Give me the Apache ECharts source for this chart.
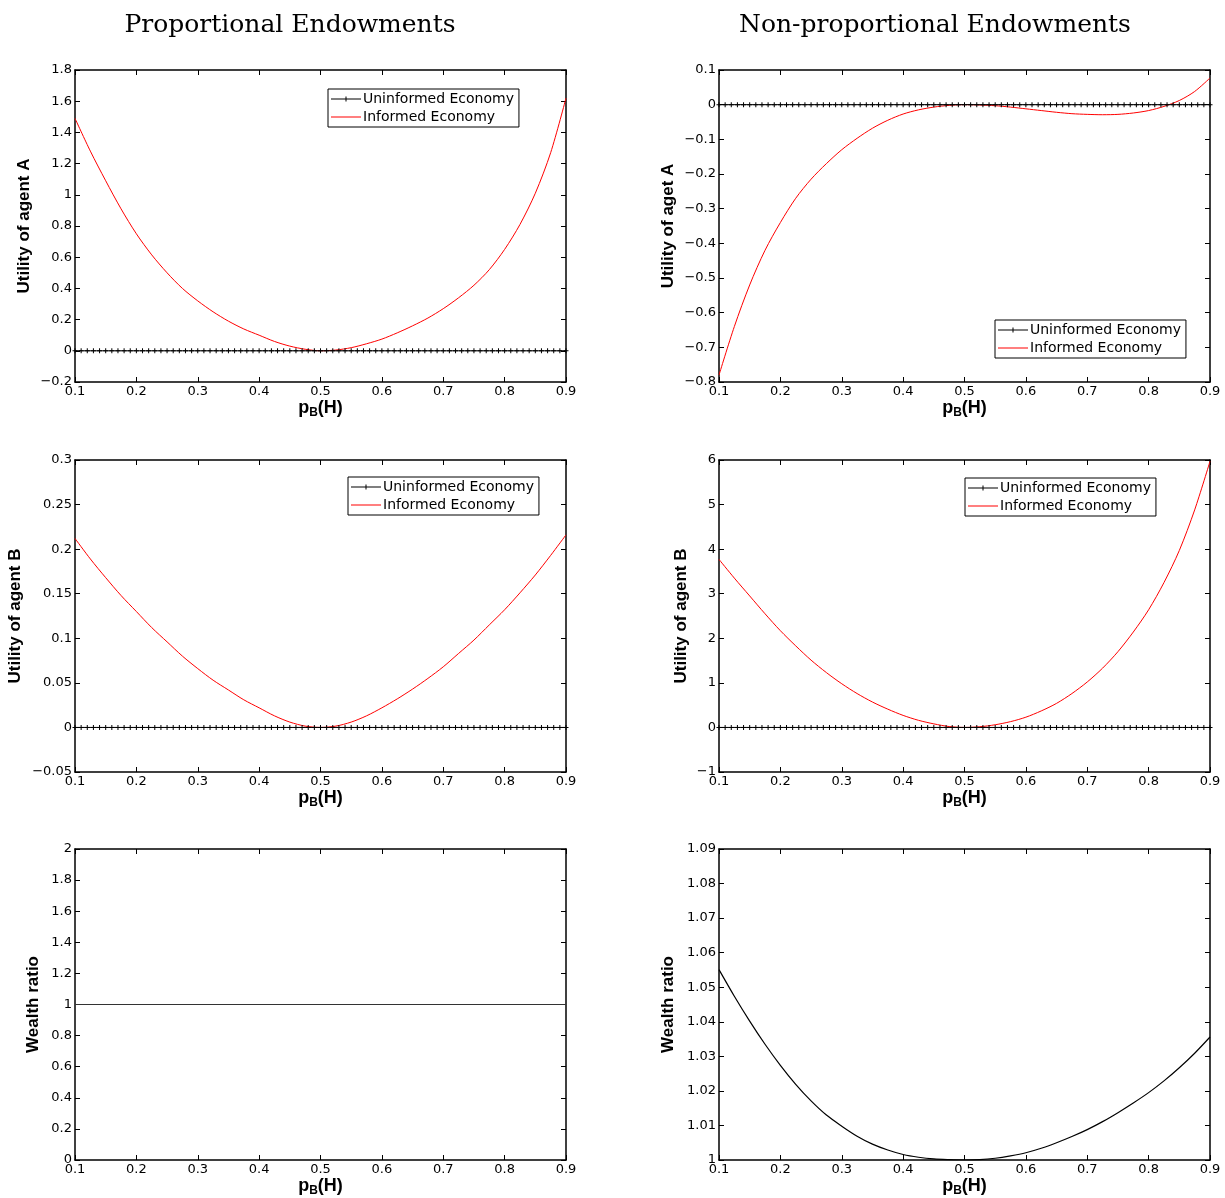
<!DOCTYPE html>
<html>
<head>
<meta charset="utf-8">
<script src="https://cdn.jsdelivr.net/npm/echarts@6/dist/echarts.min.js"></script>
<style>
  html, body { margin: 0; padding: 0; background: #fff; }
  #chart { width: 1225px; height: 1198px; }
</style>
</head>
<body>
<div id="chart"></div>
<script>
// x values of the read curves
const pCurve = [
  0.100, 0.125, 0.150, 0.175, 0.200, 0.225, 0.250, 0.275, 0.300, 0.325, 0.350,
  0.375, 0.400, 0.425, 0.450, 0.475, 0.500, 0.525, 0.550, 0.575, 0.600, 0.625,
  0.650, 0.675, 0.700, 0.725, 0.750, 0.775, 0.800, 0.825, 0.850, 0.875, 0.900
];

// fine grid where the uninformed "+" markers sit
const pFine = [
  0.10, 0.11, 0.12, 0.13, 0.14, 0.15, 0.16, 0.17, 0.18, 0.19,
  0.20, 0.21, 0.22, 0.23, 0.24, 0.25, 0.26, 0.27, 0.28, 0.29,
  0.30, 0.31, 0.32, 0.33, 0.34, 0.35, 0.36, 0.37, 0.38, 0.39,
  0.40, 0.41, 0.42, 0.43, 0.44, 0.45, 0.46, 0.47, 0.48, 0.49,
  0.50, 0.51, 0.52, 0.53, 0.54, 0.55, 0.56, 0.57, 0.58, 0.59,
  0.60, 0.61, 0.62, 0.63, 0.64, 0.65, 0.66, 0.67, 0.68, 0.69,
  0.70, 0.71, 0.72, 0.73, 0.74, 0.75, 0.76, 0.77, 0.78, 0.79,
  0.80, 0.81, 0.82, 0.83, 0.84, 0.85, 0.86, 0.87, 0.88, 0.89,
  0.90
];
const uninformedUtil = [
  0, 0, 0, 0, 0, 0, 0, 0, 0, 0,
  0, 0, 0, 0, 0, 0, 0, 0, 0, 0,
  0, 0, 0, 0, 0, 0, 0, 0, 0, 0,
  0, 0, 0, 0, 0, 0, 0, 0, 0, 0,
  0, 0, 0, 0, 0, 0, 0, 0, 0, 0,
  0, 0, 0, 0, 0, 0, 0, 0, 0, 0,
  0, 0, 0, 0, 0, 0, 0, 0, 0, 0,
  0, 0, 0, 0, 0, 0, 0, 0, 0, 0,
  0
];

// informed economy curves
const utilAProp = [
  1.49, 1.28, 1.09, 0.91, 0.75, 0.615, 0.50, 0.40, 0.32, 0.25, 0.19,
  0.14, 0.10, 0.06, 0.03, 0.01, 0.00, 0.005, 0.02, 0.045, 0.075, 0.115,
  0.16, 0.21, 0.27, 0.34, 0.42, 0.52, 0.65, 0.81, 1.01, 1.27, 1.62
];
const utilANonProp = [
  -0.78, -0.64, -0.52, -0.42, -0.34, -0.27, -0.215, -0.17, -0.13, -0.097, -0.068,
  -0.045, -0.027, -0.015, -0.007, -0.002, 0.0, -0.001, -0.003, -0.007, -0.012, -0.017,
  -0.022, -0.026, -0.028, -0.029, -0.028, -0.024, -0.017, -0.005, 0.012, 0.038, 0.077
];
const utilBProp = [
  0.212, 0.189, 0.168, 0.148, 0.130, 0.112, 0.096, 0.080, 0.066, 0.053, 0.042,
  0.031, 0.022, 0.013, 0.006, 0.0015, 0.0, 0.0015, 0.006, 0.013, 0.022, 0.032,
  0.043, 0.055, 0.068, 0.083, 0.098, 0.115, 0.132, 0.151, 0.171, 0.193, 0.216
];
const utilBNonProp = [
  3.77, 3.35, 2.95, 2.55, 2.17, 1.83, 1.51, 1.23, 0.98, 0.76, 0.57,
  0.41, 0.27, 0.16, 0.08, 0.02, 0.0, 0.015, 0.06, 0.13, 0.23, 0.37,
  0.54, 0.76, 1.02, 1.33, 1.70, 2.14, 2.64, 3.25, 3.97, 4.88, 5.97
];
const wealthProp = [
  1, 1, 1, 1, 1, 1, 1, 1, 1, 1, 1,
  1, 1, 1, 1, 1, 1, 1, 1, 1, 1, 1,
  1, 1, 1, 1, 1, 1, 1, 1, 1, 1, 1
];
const wealthNonProp = [
  1.0551, 1.0474, 1.0402, 1.0335, 1.0274, 1.0219, 1.0171, 1.0130, 1.0098, 1.0069, 1.0046,
  1.0029, 1.0016, 1.0008, 1.0003, 1.0001, 1.0000, 1.0001, 1.0005, 1.0012, 1.0021, 1.0034,
  1.0050, 1.0068, 1.0088, 1.0111, 1.0137, 1.0165, 1.0195, 1.0229, 1.0267, 1.0309, 1.0356
];

const titles = ['Proportional Endowments', 'Non-proportional Endowments'];
const legendNames = ['Uninformed Economy', 'Informed Economy'];

const SANS = '"DejaVu Sans", sans-serif';
const NAME_FONT = '"Liberation Sans", Arial, sans-serif';
const plusSymbol = 'path://M0,4H10V6H0Z M4,0H6V10H4Z';

const pairs = (xs, ys) => xs.map((x, i) => [x, ys[i]]);
const fmt = v => String(parseFloat(v.toFixed(3))).replace('-', '\u2212');

// panel layout
const panels = [
  { left: 75,  top: 70,  yMin: -0.2,  yMax: 1.8,  yInt: 0.2,  yName: 'Utility of agent A', gap: 42 },
  { left: 719, top: 70,  yMin: -0.8,  yMax: 0.1,  yInt: 0.1,  yName: 'Utility of aget A',  gap: 42 },
  { left: 75,  top: 460, yMin: -0.05, yMax: 0.3,  yInt: 0.05, yName: 'Utility of agent B', gap: 51 },
  { left: 719, top: 460, yMin: -1,    yMax: 6,    yInt: 1,    yName: 'Utility of agent B', gap: 29 },
  { left: 75,  top: 849, yMin: 0,     yMax: 2,    yInt: 0.2,  yName: 'Wealth ratio',       gap: 33 },
  { left: 719, top: 849, yMin: 1,     yMax: 1.09, yInt: 0.01, yName: 'Wealth ratio',       gap: 42 }
];

const grid = [], xAxis = [], yAxis = [];
panels.forEach((p, i) => {
  grid.push({ left: p.left, top: p.top, width: 491, height: 312 });
  const lineStyle = { color: '#000', width: 1.5 };
  const tick = { show: true, inside: true, length: 5, lineStyle: { color: '#000', width: 1 } };
  xAxis.push({
    type: 'value', gridIndex: i, min: 0.1, max: 0.9, interval: 0.1, position: 'bottom',
    axisLine: { show: true, onZero: false, lineStyle },
    axisTick: tick, splitLine: { show: false },
    axisLabel: { color: '#000', fontSize: 13, fontFamily: SANS, margin: 3, formatter: fmt },
    name: '{p|p}{s|B}{p|(H)}', nameLocation: 'middle', nameGap: 15,
    nameTextStyle: {
      rich: {
        p: { fontSize: 18, fontWeight: 'bold', fontFamily: NAME_FONT, color: '#000' },
        s: { fontSize: 12, fontWeight: 'bold', fontFamily: NAME_FONT, color: '#000', padding: [10, 0, 0, 0] }
      }
    }
  });
  xAxis.push({
    type: 'value', gridIndex: i, min: 0.1, max: 0.9, interval: 0.1, position: 'top',
    axisLine: { show: true, onZero: false, lineStyle },
    axisTick: tick, axisLabel: { show: false }, splitLine: { show: false }
  });
  yAxis.push({
    type: 'value', gridIndex: i, min: p.yMin, max: p.yMax, interval: p.yInt, position: 'left',
    axisLine: { show: true, onZero: false, lineStyle },
    axisTick: tick, splitLine: { show: false },
    axisLabel: { color: '#000', fontSize: 13, fontFamily: SANS, margin: 3, formatter: fmt },
    name: p.yName, nameLocation: 'middle', nameGap: p.gap,
    nameTextStyle: { fontSize: 17, fontWeight: 'bold', fontFamily: NAME_FONT, color: '#000' }
  });
  yAxis.push({
    type: 'value', gridIndex: i, min: p.yMin, max: p.yMax, interval: p.yInt, position: 'right',
    axisLine: { show: true, onZero: false, lineStyle },
    axisTick: tick, axisLabel: { show: false }, splitLine: { show: false }
  });
});

function informed(i, ys) {
  return {
    name: 'Informed Economy', type: 'line', xAxisIndex: i * 2, yAxisIndex: i * 2,
    data: pairs(pCurve, ys), smooth: 0.3, showSymbol: false, symbol: 'none',
    lineStyle: { color: '#ff0000', width: 1 }, itemStyle: { color: '#ff0000' }, z: 2
  };
}
function uninformed(i) {
  return {
    name: 'Uninformed Economy', type: 'line', xAxisIndex: i * 2, yAxisIndex: i * 2,
    data: pairs(pFine, uninformedUtil), symbol: plusSymbol, symbolSize: 5, showSymbol: true,
    lineStyle: { color: '#000', width: 1 }, itemStyle: { color: '#000' }, z: 3
  };
}
function wealth(i, ys, color) {
  return {
    name: 'wealth' + i, type: 'line', xAxisIndex: i * 2, yAxisIndex: i * 2,
    data: pairs(pCurve, ys), smooth: 0.3, showSymbol: false, symbol: 'none',
    lineStyle: { color, width: 1.2 }
  };
}

const series = [
  informed(0, utilAProp), uninformed(0),
  informed(1, utilANonProp), uninformed(1),
  informed(2, utilBProp), uninformed(2),
  informed(3, utilBNonProp), uninformed(3),
  wealth(4, wealthProp, '#333'),
  wealth(5, wealthNonProp, '#000')
];

// legend icons: a line with a small plus, and a plain line (30 x 10 box)
const legendData = [
  { name: legendNames[0], icon: 'path://M0,4.5H30V5.5H0Z M13,4.5H17V5.5H13Z M14.5,2.5H15.5V7.5H14.5Z' },
  { name: legendNames[1], icon: 'path://M0,4.5H30V5.5H0Z M0,0H0.01V10H0Z' }
];
const legendBase = {
  orient: 'vertical', data: legendData, selectedMode: false,
  backgroundColor: '#fff', borderColor: '#000', borderWidth: 1, borderRadius: 0,
  padding: [3, 5, 3, 3], itemGap: 4, itemWidth: 30, itemHeight: 10,
  textStyle: { fontSize: 14, fontFamily: SANS, color: '#000', padding: [0, 0, 0, -3] }
};
const legend = [
  Object.assign({ left: 328, top: 89 }, legendBase),
  Object.assign({ left: 348, top: 477 }, legendBase),
  Object.assign({ left: 995, top: 320 }, legendBase),
  Object.assign({ left: 965, top: 478 }, legendBase)
];

const chart = echarts.init(document.getElementById('chart'));
chart.setOption({
  animation: false,
  backgroundColor: '#fff',
  title: [
    { text: titles[0], left: 285, top: 8, textAlign: 'center',
      textStyle: { fontFamily: '"DejaVu Serif", serif', fontWeight: 'normal', fontSize: 25, color: '#000' } },
    { text: titles[1], left: 930, top: 8, textAlign: 'center',
      textStyle: { fontFamily: '"DejaVu Serif", serif', fontWeight: 'normal', fontSize: 25, color: '#000' } }
  ],
  legend,
  grid, xAxis, yAxis, series
});
</script>
</body>
</html>
